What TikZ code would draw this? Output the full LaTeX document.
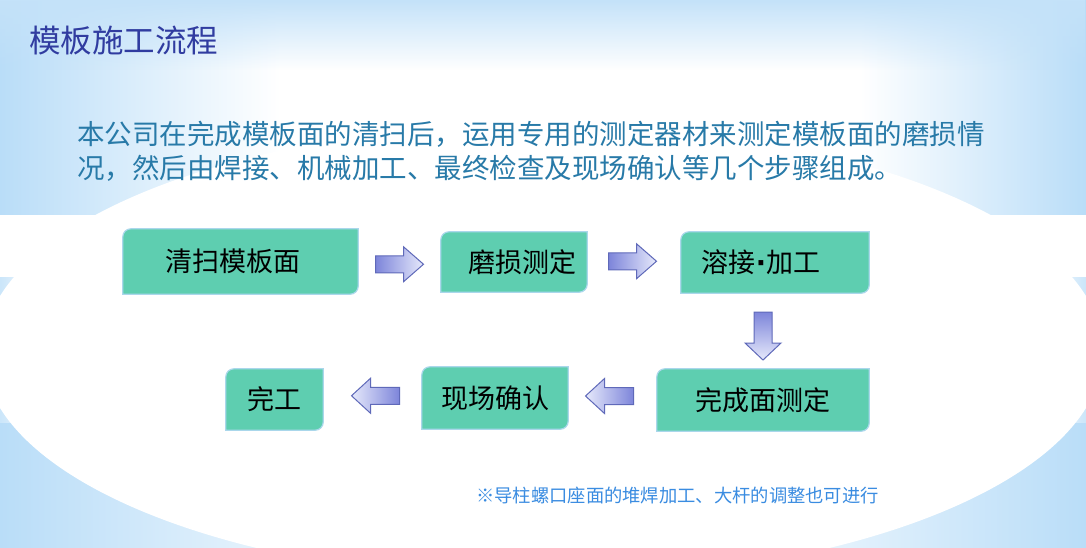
\documentclass[tikz,border=0pt]{standalone}
\usepackage{fontspec}
\setmainfont{Noto Sans CJK SC}
\newfontfamily\dotfont{DejaVu Sans}
\usetikzlibrary{calc,fadings}
\pgfdeclarelayer{bg}
\pgfdeclarelayer{mid}
\pgfsetlayers{bg,mid,main}
\definecolor{bgblue}{RGB}{185,221,248}
\definecolor{titleblue}{RGB}{48,60,160}
\definecolor{paratext}{RGB}{40,122,168}
\definecolor{footblue}{RGB}{58,140,225}
\definecolor{boxgreen}{RGB}{94,206,176}
\definecolor{boxedge}{RGB}{170,215,235}
\definecolor{arrowdark}{RGB}{125,133,218}
\definecolor{arrowlight}{RGB}{230,233,251}
\definecolor{arrowedge}{RGB}{95,105,185}
\tikzfading[name=topfade, top color=transparent!0, bottom color=transparent!100]
\newcommand\rblockarrow[1]{%
  \draw[arrowline, left color=arrowdark, right color=arrowlight, shift={(#1)}]
    (-24,-8.5) -- (4,-8.5) -- (4,-17.5) -- (24,0) -- (4,17.5) -- (4,8.5) -- (-24,8.5) -- cycle;}
\newcommand\lblockarrow[1]{%
  \draw[arrowline, left color=arrowlight, right color=arrowdark, shift={(#1)}]
    (24,-8.5) -- (-5,-8.5) -- (-5,-17.5) -- (-24,0) -- (-5,17.5) -- (-5,8.5) -- (24,8.5) -- cycle;}
\newcommand\dblockarrow[1]{%
  \draw[arrowline, top color=arrowdark, bottom color=arrowlight, shift={(#1)}]
    (-9,-24) -- (-9,7) -- (-18,7) -- (0,24) -- (18,7) -- (9,7) -- (9,-24) -- cycle;}
\begin{document}
\begin{tikzpicture}[x=1pt,y=-1pt,
  boxn/.style={inner sep=0pt, font=\fontsize{27}{30}\selectfont, text=black},
  boxshape/.style={fill=boxgreen, draw=boxedge, line width=1.2pt},
  arrowline/.style={draw=arrowedge, line width=1pt, line join=miter}]
\useasboundingbox (0,0) rectangle (1086,547);
% ---------- background ----------
\begin{pgfonlayer}{bg}
  \fill[white] (0,0) rectangle (1086,547);
  % top band
  \shade[left color=bgblue, right color=white] (0,0) rectangle (280,215);
  \shade[left color=white, right color=bgblue] (860,0) rectangle (1086,215);
  \fill[bgblue!85, path fading=topfade] (0,0) rectangle (1086,70);
  % middle light band
  \shade[left color=bgblue!75, right color=white] (0,277) rectangle (45,423);
  \shade[left color=white, right color=bgblue!75] (1041,277) rectangle (1086,423);
  % bottom band
  \shade[left color=bgblue, right color=white] (0,423) rectangle (420,547);
  \shade[left color=white, right color=bgblue] (680,423) rectangle (1086,547);
  % white bands and ellipse
  \fill[white] (0,215) rectangle (1086,277);
  \fill[white] (543,352) ellipse [x radius=560pt, y radius=228pt];
\end{pgfonlayer}
% ---------- texts ----------
\node[anchor=base west, inner sep=0pt, text=titleblue, font=\fontsize{31.5}{36}\selectfont] (title) at (29,52) {模板施工流程};
\node[anchor=base west, inner sep=0pt, text=paratext, font=\fontsize{27.5}{34}\selectfont] (p1) at (77,144) {本公司在完成模板面的清扫后，运用专用的测定器材来测定模板面的磨损情};
\node[anchor=base west, inner sep=0pt, text=paratext, font=\fontsize{27.5}{34}\selectfont] (p2) at ($(p1.base west)+(0,34)$) {况，然后由焊接、机械加工、最终检查及现场确认等几个步骤组成。};
\node[anchor=base west, inner sep=0pt, text=footblue, font=\fontsize{18.3}{22}\selectfont] (foot) at (476,502) {※导柱螺口座面的堆焊加工、大杆的调整也可进行};
% ---------- boxes ----------
\node[boxn, minimum width=235pt, minimum height=65pt] (b1) at (240.5,261.5) {清扫模板面\hspace*{16pt}};
\node[boxn, minimum width=146pt, minimum height=60pt] (b2) at (514,262) {\hspace*{16pt}磨损测定};
\node[boxn, minimum width=188pt, minimum height=61pt] (b3) at (775,262.5) {溶接{\dotfont\textbf{·}}加工\hspace*{28pt}};
\node[boxn, minimum width=212pt, minimum height=62pt] (b4) at (763,400) {完成面测定};
\node[boxn, minimum width=146pt, minimum height=62pt] (b5) at (495,398) {现场确认};
\node[boxn, minimum width=97pt, minimum height=61pt] (b6) at (274.5,399.5) {完工};
\begin{pgfonlayer}{mid}
  \foreach \n in {b1,b2,b3,b4,b5,b6}{
    \draw[boxshape] (\n.south west) -- ($(\n.north west)+(0,8)$)
      .. controls ($(\n.north west)+(0,3.6)$) and ($(\n.north west)+(3.6,0)$) .. ($(\n.north west)+(8,0)$)
      -- (\n.north east)
      -- ($(\n.south east)+(0,-8)$)
      .. controls ($(\n.south east)+(0,-3.6)$) and ($(\n.south east)+(-3.6,0)$) .. ($(\n.south east)+(-8,0)$)
      -- cycle;
  }
\end{pgfonlayer}
% ---------- arrows ----------
\coordinate (a1) at ($(b1.east)!0.5!(b2.west)+(0,2.5)$);
\coordinate (a2) at ($(b2.east)!0.5!(b3.west)+(-1.5,-1)$);
\coordinate (a3) at ($(b4.north)!0.5!(b4.north |- b3.south)+(0,5)$);
\coordinate (a4) at ($(b5.east)!0.5!(b4.west)+(-3,-3)$);
\coordinate (a5) at ($(b6.east)!0.5!(b5.west)+(3,-3)$);
\rblockarrow{a1}
\rblockarrow{a2}
\dblockarrow{a3}
\lblockarrow{a4}
\lblockarrow{a5}
\end{tikzpicture}
\end{document}
